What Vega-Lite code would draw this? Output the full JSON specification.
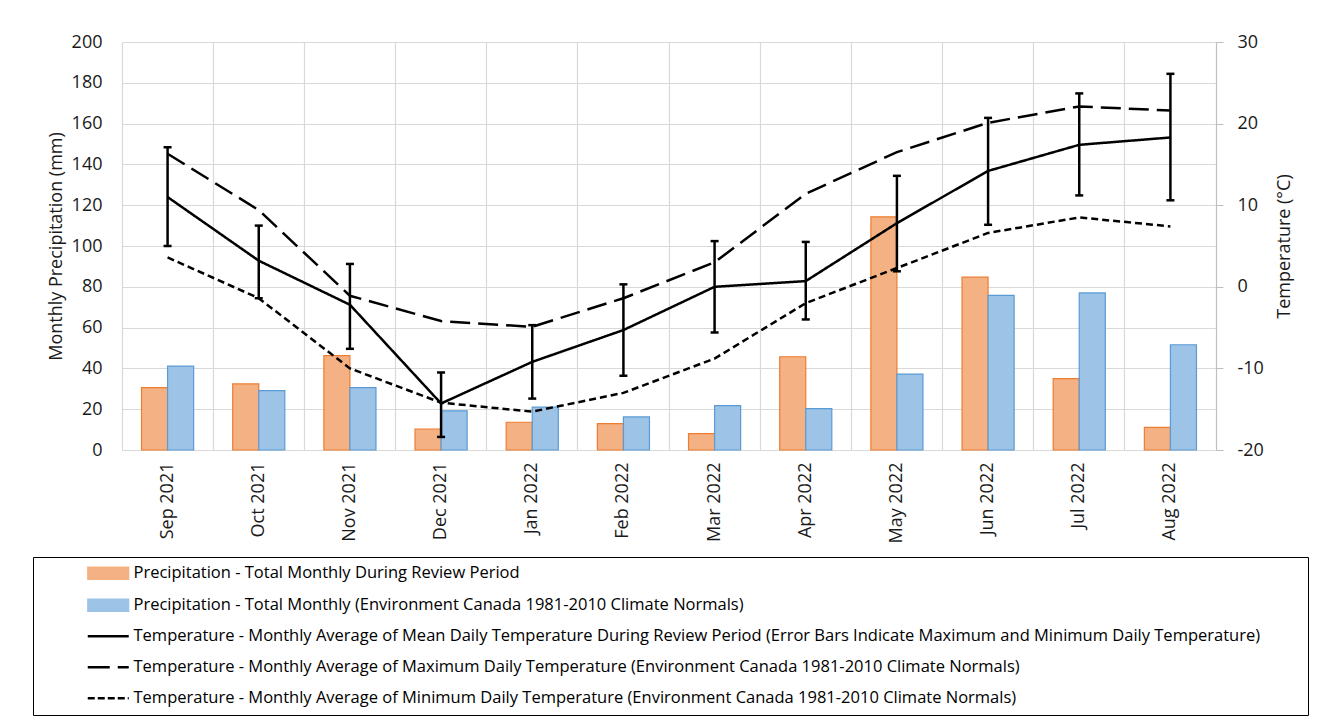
{
  "$schema": "https://vega.github.io/schema/vega-lite/v6.json",
  "width": 1094,
  "height": 408,
  "autosize": {"type": "none"},
  "padding": {"left": 122, "top": 42, "right": 114, "bottom": 269},
  "background": "white",
  "datasets": {
    "precip": [
      {"month": "Sep 2021", "series": "review", "mm": 30.6},
      {"month": "Sep 2021", "series": "normal", "mm": 41.1},
      {"month": "Oct 2021", "series": "review", "mm": 32.4},
      {"month": "Oct 2021", "series": "normal", "mm": 29.1},
      {"month": "Nov 2021", "series": "review", "mm": 46.3},
      {"month": "Nov 2021", "series": "normal", "mm": 30.6},
      {"month": "Dec 2021", "series": "review", "mm": 10.3},
      {"month": "Dec 2021", "series": "normal", "mm": 19.2},
      {"month": "Jan 2022", "series": "review", "mm": 13.6},
      {"month": "Jan 2022", "series": "normal", "mm": 21.0},
      {"month": "Feb 2022", "series": "review", "mm": 12.9},
      {"month": "Feb 2022", "series": "normal", "mm": 16.2},
      {"month": "Mar 2022", "series": "review", "mm": 8.0},
      {"month": "Mar 2022", "series": "normal", "mm": 21.8},
      {"month": "Apr 2022", "series": "review", "mm": 45.7},
      {"month": "Apr 2022", "series": "normal", "mm": 20.3},
      {"month": "May 2022", "series": "review", "mm": 114.3},
      {"month": "May 2022", "series": "normal", "mm": 37.2},
      {"month": "Jun 2022", "series": "review", "mm": 84.7},
      {"month": "Jun 2022", "series": "normal", "mm": 75.8},
      {"month": "Jul 2022", "series": "review", "mm": 35.0},
      {"month": "Jul 2022", "series": "normal", "mm": 77.0},
      {"month": "Aug 2022", "series": "review", "mm": 11.1},
      {"month": "Aug 2022", "series": "normal", "mm": 51.6}
    ],
    "temp": [
      {"month": "Sep 2021", "series": "mean", "c": 11.0},
      {"month": "Oct 2021", "series": "mean", "c": 3.2},
      {"month": "Nov 2021", "series": "mean", "c": -2.2},
      {"month": "Dec 2021", "series": "mean", "c": -14.3},
      {"month": "Jan 2022", "series": "mean", "c": -9.2},
      {"month": "Feb 2022", "series": "mean", "c": -5.3},
      {"month": "Mar 2022", "series": "mean", "c": 0.0},
      {"month": "Apr 2022", "series": "mean", "c": 0.7},
      {"month": "May 2022", "series": "mean", "c": 7.8},
      {"month": "Jun 2022", "series": "mean", "c": 14.2},
      {"month": "Jul 2022", "series": "mean", "c": 17.4},
      {"month": "Aug 2022", "series": "mean", "c": 18.3},
      {"month": "Sep 2021", "series": "max", "c": 16.3},
      {"month": "Oct 2021", "series": "max", "c": 9.4},
      {"month": "Nov 2021", "series": "max", "c": -1.1},
      {"month": "Dec 2021", "series": "max", "c": -4.2},
      {"month": "Jan 2022", "series": "max", "c": -4.9},
      {"month": "Feb 2022", "series": "max", "c": -1.4},
      {"month": "Mar 2022", "series": "max", "c": 3.0},
      {"month": "Apr 2022", "series": "max", "c": 11.4},
      {"month": "May 2022", "series": "max", "c": 16.5},
      {"month": "Jun 2022", "series": "max", "c": 20.1},
      {"month": "Jul 2022", "series": "max", "c": 22.1},
      {"month": "Aug 2022", "series": "max", "c": 21.6},
      {"month": "Sep 2021", "series": "min", "c": 3.6},
      {"month": "Oct 2021", "series": "min", "c": -1.4},
      {"month": "Nov 2021", "series": "min", "c": -10.0},
      {"month": "Dec 2021", "series": "min", "c": -14.2},
      {"month": "Jan 2022", "series": "min", "c": -15.3},
      {"month": "Feb 2022", "series": "min", "c": -13.0},
      {"month": "Mar 2022", "series": "min", "c": -8.8},
      {"month": "Apr 2022", "series": "min", "c": -2.0},
      {"month": "May 2022", "series": "min", "c": 2.3},
      {"month": "Jun 2022", "series": "min", "c": 6.6},
      {"month": "Jul 2022", "series": "min", "c": 8.5},
      {"month": "Aug 2022", "series": "min", "c": 7.4}
    ],
    "err": [
      {"month": "Sep 2021", "lo": 5.0, "hi": 17.1},
      {"month": "Oct 2021", "lo": -1.4, "hi": 7.5},
      {"month": "Nov 2021", "lo": -7.6, "hi": 2.8},
      {"month": "Dec 2021", "lo": -18.4, "hi": -10.5},
      {"month": "Jan 2022", "lo": -13.7, "hi": -4.7},
      {"month": "Feb 2022", "lo": -10.9, "hi": 0.3},
      {"month": "Mar 2022", "lo": -5.6, "hi": 5.6},
      {"month": "Apr 2022", "lo": -4.0, "hi": 5.5},
      {"month": "May 2022", "lo": 1.9, "hi": 13.6},
      {"month": "Jun 2022", "lo": 7.6, "hi": 20.7},
      {"month": "Jul 2022", "lo": 11.2, "hi": 23.7},
      {"month": "Aug 2022", "lo": 10.6, "hi": 26.1}
    ]
  },
  "layer": [
    {
      "data": {"name": "precip"},
      "mark": {"type": "bar", "strokeWidth": 1.2},
      "encoding": {
        "x": {
          "field": "month", "type": "nominal", "sort": null,
          "scale": {"domain": ["Sep 2021","Oct 2021","Nov 2021","Dec 2021","Jan 2022","Feb 2022","Mar 2022","Apr 2022","May 2022","Jun 2022","Jul 2022","Aug 2022"], "paddingInner": 0, "paddingOuter": 0},
          "axis": {"title": null, "grid": true, "bandPosition": 0, "ticks": false, "labelAngle": -90, "labelPadding": 12, "domainColor": "#d9d9d9"}
        },
        "xOffset": {"field": "series", "type": "nominal", "scale": {"domain": ["review", "normal"], "paddingInner": 0, "paddingOuter": 0.75}},
        "y": {
          "field": "mm", "type": "quantitative",
          "scale": {"domain": [0, 200], "nice": false},
          "axis": {"title": "Monthly Precipitation (mm)", "values": [0,20,40,60,80,100,120,140,160,180,200], "grid": true, "domain": false, "ticks": false, "labelPadding": 20, "titlePadding": 6}
        },
        "color": {
          "field": "series", "type": "nominal",
          "scale": {"domain": ["review", "normal", "mean", "max", "min"], "range": ["#F4B183", "#9DC3E6", "black", "black", "black"]},
          "legend": {
            "orient": "none", "legendX": -89, "legendY": 515, "direction": "vertical",
            "title": " ", "titleOrient": "right", "titlePadding": 40, "titleFontSize": 16,
            "strokeColor": "black", "padding": 8,
            "symbolSize": 420, "symbolOffset": 59, "labelOffset": 17,
            "labelFont": "Open Sans", "labelFontSize": 16.5, "labelColor": "black", "labelLimit": 2000,
            "rowPadding": 14,
            "labelExpr": "datum.value === 'review' ? 'Precipitation - Total Monthly During Review Period' : datum.value === 'normal' ? 'Precipitation - Total Monthly (Environment Canada 1981-2010 Climate Normals)' : datum.value === 'mean' ? 'Temperature - Monthly Average of Mean Daily Temperature During Review Period (Error Bars Indicate Maximum and Minimum Daily Temperature)' : datum.value === 'max' ? 'Temperature - Monthly Average of Maximum Daily Temperature (Environment Canada 1981-2010 Climate Normals)' : 'Temperature - Monthly Average of Minimum Daily Temperature (Environment Canada 1981-2010 Climate Normals)'",
            "encode": {
              "symbols": {
                "update": {
                  "shape": {"signal": "datum.index < 2 ? 'M-2,-0.6H2V0.6H-2Z' : 'M-2,0H2'"},
                  "fill": {"signal": "datum.index === 0 ? '#F4B183' : datum.index === 1 ? '#9DC3E6' : 'transparent'"},
                  "stroke": {"signal": "datum.index === 0 ? '#ED7D31' : datum.index === 1 ? '#5B9BD5' : 'black'"},
                  "strokeDash": {"signal": "datum.index === 3 ? [22, 8] : datum.index === 4 ? [7, 3] : [1, 0]"},
                  "strokeWidth": {"signal": "datum.index < 2 ? 1.2 : 2.5"}
                }
              }
            }
          }
        },
        "stroke": {
          "field": "series", "type": "nominal",
          "scale": {"domain": ["review", "normal"], "range": ["#ED7D31", "#5B9BD5"]},
          "legend": null
        }
      }
    },
    {
      "layer": [
        {
          "data": {"name": "temp"},
          "mark": {"type": "line", "strokeWidth": 2.5},
          "encoding": {
            "x": {"field": "month", "type": "nominal", "sort": null, "axis": {"title": null}},
            "y": {
              "field": "c", "type": "quantitative",
              "scale": {"domain": [-20, 30], "nice": false},
              "title": "Temperature (°C)",
              "axis": {"orient": "right", "values": [-20, -10, 0, 10, 20, 30], "labelExpr": "'' + datum.value", "grid": false, "ticks": true, "tickSize": 7, "tickColor": "#bfbfbf", "domainColor": "#bfbfbf", "labelPadding": 14, "titlePadding": 12, "titleAngle": 270, "titleBaseline": "top"}
            },
            "color": {"field": "series", "type": "nominal"},
            "strokeDash": {
              "field": "series", "type": "nominal",
              "scale": {"domain": ["mean", "max", "min"], "range": [[1, 0], [20, 8], [7, 4]]},
              "legend": null
            }
          }
        },
        {
          "data": {"name": "err"},
          "mark": {"type": "rule", "strokeWidth": 2.5, "color": "black"},
          "encoding": {
            "x": {"field": "month", "type": "nominal", "sort": null, "axis": {"title": null}},
            "y": {"field": "lo", "type": "quantitative", "title": "Temperature (°C)"},
            "y2": {"field": "hi"}
          }
        },
        {
          "data": {"name": "err"},
          "mark": {"type": "tick", "color": "black", "size": 8, "thickness": 2.5, "opacity": 1, "orient": "horizontal"},
          "encoding": {
            "x": {"field": "month", "type": "nominal", "sort": null, "axis": {"title": null}},
            "y": {"field": "lo", "type": "quantitative", "title": "Temperature (°C)"}
          }
        },
        {
          "data": {"name": "err"},
          "mark": {"type": "tick", "color": "black", "size": 8, "thickness": 2.5, "opacity": 1, "orient": "horizontal"},
          "encoding": {
            "x": {"field": "month", "type": "nominal", "sort": null, "axis": {"title": null}},
            "y": {"field": "hi", "type": "quantitative", "title": "Temperature (°C)"}
          }
        }
      ]
    }
  ],
  "resolve": {"scale": {"y": "independent"}},
  "config": {
    "font": "Open Sans",
    "view": {"stroke": null},
    "axis": {
      "labelFont": "Open Sans", "labelFontSize": 18, "labelColor": "#1a1a1a",
      "titleFont": "Open Sans", "titleFontSize": 18, "titleFontWeight": "normal", "titleColor": "#1a1a1a",
      "gridColor": "#d9d9d9", "gridWidth": 1.2, "domainColor": "#bfbfbf", "domainWidth": 1.2, "tickColor": "#bfbfbf"
    }
  }
}
